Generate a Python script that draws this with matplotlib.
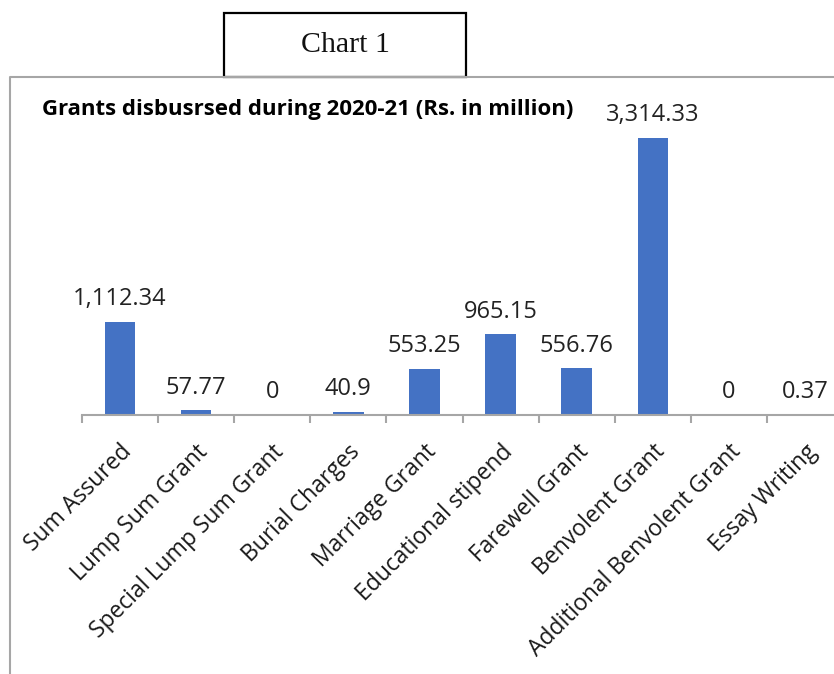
import matplotlib.pyplot as plt
from matplotlib.patches import Rectangle
from matplotlib.lines import Line2D

categories = ['Sum Assured', 'Lump Sum Grant', 'Special Lump Sum Grant', 'Burial Charges',
              'Marriage Grant', 'Educational stipend', 'Farewell Grant', 'Benvolent Grant',
              'Additional Benvolent Grant', 'Essay Writing']
values = [1112.34, 57.77, 0, 40.9, 553.25, 965.15, 556.76, 3314.33, 0, 0.37]
value_labels = ['1,112.34', '57.77', '0', '40.9', '553.25', '965.15', '556.76', '3,314.33', '0', '0.37']

W, H = 834, 674
plt.rcParams['font.family'] = ['Open Sans', 'DejaVu Sans']

fig = plt.figure(figsize=(W / 100, H / 100), dpi=100)

# plot area in pixel terms: axis line at y=415, categories from x=82 to x=843
left, right = 82, 843
base = 415
ymax = 3500
px_per_unit = 277 / 3314.33
ax = fig.add_axes([left / W, (H - base) / H, (right - left) / W, ymax * px_per_unit / H])

x = range(len(categories))
ax.bar(x, values, width=0.4, color='#4472C4')
ax.set_xlim(-0.5, len(categories) - 0.5)
ax.set_ylim(0, ymax)

for i, (v, lab) in enumerate(zip(values, value_labels)):
    ax.annotate(lab, (i, v), xytext=(0, 12), textcoords='offset points',
                ha='center', va='baseline', fontsize=17, color='#222222')

for s in ['top', 'right', 'left']:
    ax.spines[s].set_visible(False)
ax.spines['bottom'].set_color('#a6a6a6')
ax.spines['bottom'].set_linewidth(1.5)
ax.set_yticks([])
ax.set_xticks([i - 0.5 for i in range(len(categories) + 1)], minor=False)
ax.set_xticklabels([])
ax.tick_params(axis='x', which='major', length=6, width=1.5, color='#a6a6a6', direction='out')
ax.set_xticks(list(x), minor=True)
ax.set_xticklabels(categories, minor=True, rotation=45, ha='right', rotation_mode='anchor',
                   fontsize=16.5, color='#1a1a1a')
ax.tick_params(axis='x', which='minor', length=0, pad=18)

# outer frame (left and top edges visible)
fig.add_artist(Line2D([10 / W, 10 / W, 1], [0, 1 - 77 / H, 1 - 77 / H],
                      transform=fig.transFigure, color='#a6a6a6', lw=1.5))

# "Chart 1" caption box
fig.add_artist(Rectangle((224 / W, 1 - 77 / H), (466 - 224) / W, (77 - 13) / H,
                         transform=fig.transFigure, facecolor='white', edgecolor='black', lw=1.6))
fig.text(345 / W, 1 - 45 / H, 'Chart 1', ha='center', va='center', fontsize=21.5,
         family='Liberation Serif', color='#111111')

fig.text(42 / W, 1 - 110 / H, 'Grants disbusrsed during 2020-21 (Rs. in million)',
         ha='left', va='center', fontsize=16, fontweight='bold', color='black')

fig.savefig('out.png', dpi=100)
